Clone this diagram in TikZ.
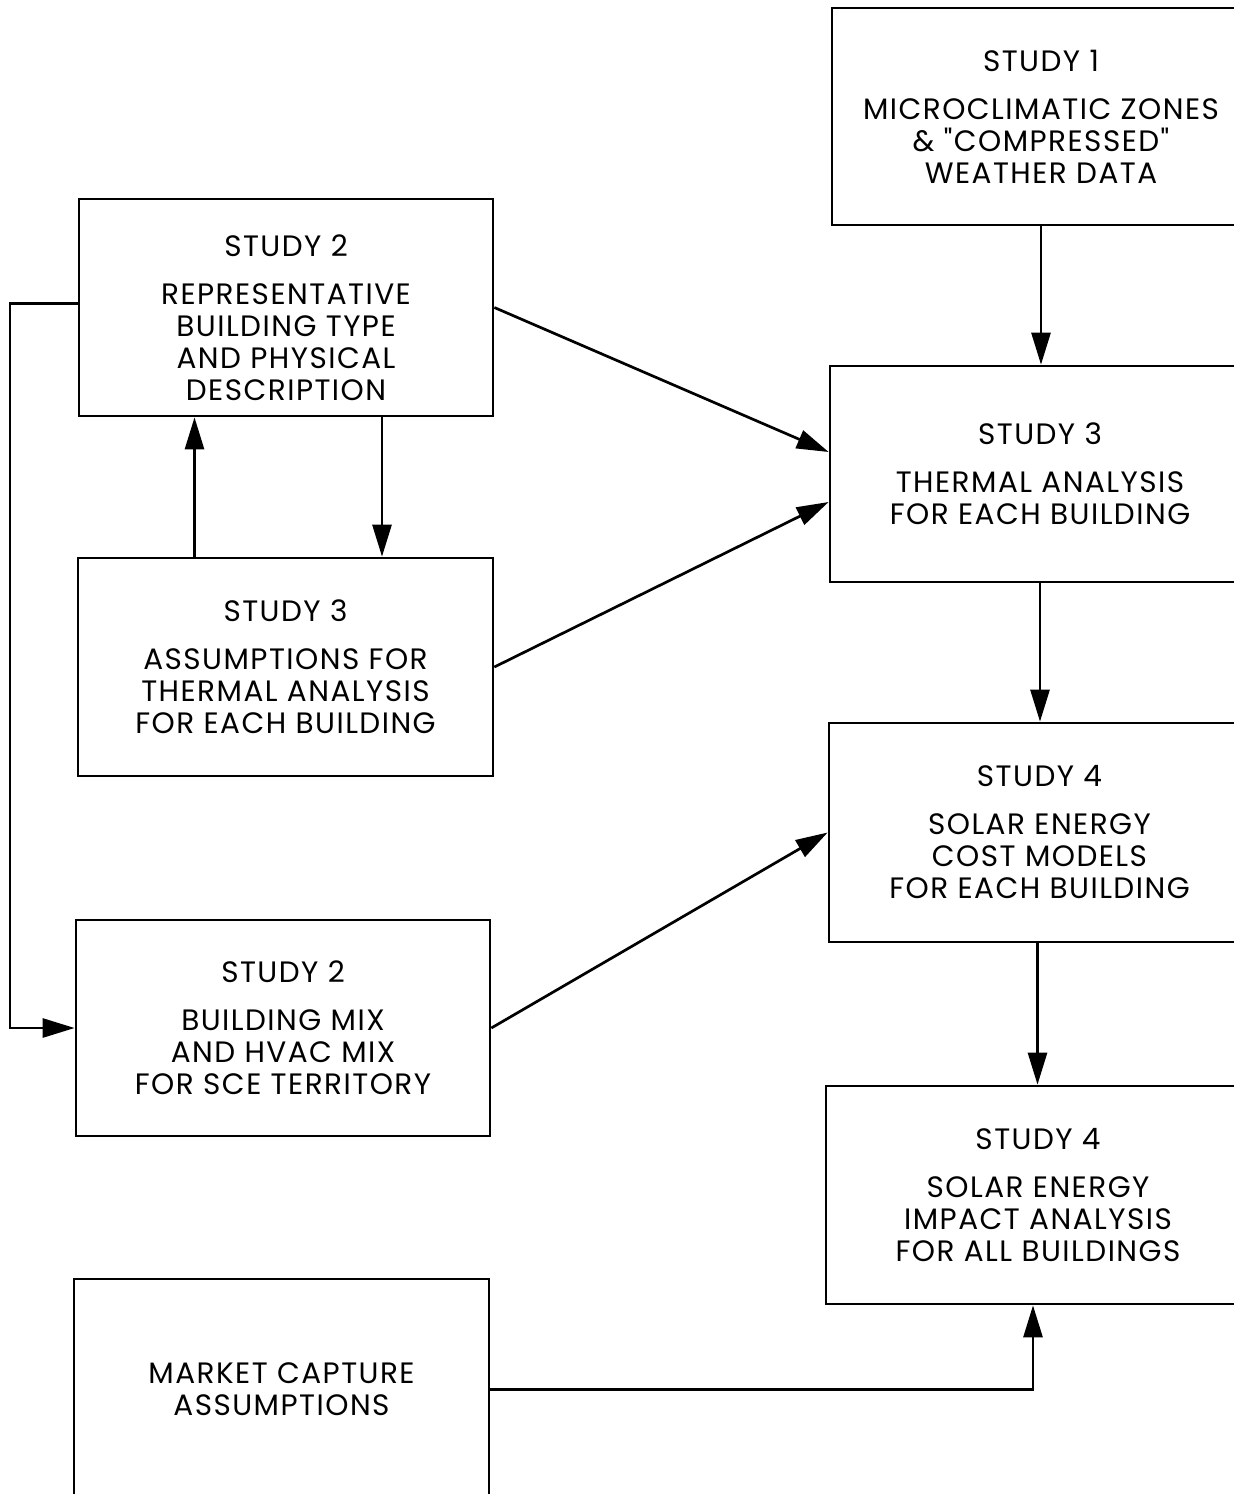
\documentclass[tikz,border=0pt]{standalone}
\usepackage{fontspec}
\newfontfamily\bodyfont{Poppins}[LetterSpace=5]
\usetikzlibrary{arrows.meta,calc}
\tikzset{
  box/.style={draw, line width=2.7pt, align=center, inner sep=0pt,
    font=\bodyfont\fontsize{29.5}{32}\selectfont},
  label text/.style={align=center, inner sep=0pt,
    font=\bodyfont\fontsize{29.5}{32}\selectfont},
  conn/.style={line width=2.7pt, -{Triangle[length=32pt,width=19pt]}}
}
\newcommand{\boxat}[6]{% name, x1, y1, x2, y2, text
  \node[box, minimum width=#4pt-#2pt, minimum height=#5pt-#3pt] (#1) at ({(#2+#4)/2},{(#3+#5)/2}) {#6};}
\begin{document}
\begin{tikzpicture}[x=1pt,y=-1pt]
\useasboundingbox (0,0) rectangle (1234,1494);
\clip (0,0) rectangle (1234,1494);
\boxat{s1}{832}{8}{1250}{225}{STUDY 1\\[16pt]MICROCLIMATIC ZONES\\\& "COMPRESSED"\\WEATHER DATA}
\boxat{s2t}{79}{199}{493}{416}{}
\node[label text] (s2ttext) at ($(s2t.center)+(0,10)$) {STUDY 2\\[16pt]REPRESENTATIVE\\BUILDING TYPE\\AND PHYSICAL\\DESCRIPTION};
\boxat{s3l}{78}{558}{493}{776}{STUDY 3\\[16pt]ASSUMPTIONS FOR\\THERMAL ANALYSIS\\FOR EACH BUILDING}
\boxat{s3r}{830}{366}{1250}{582}{STUDY 3\\[16pt]THERMAL ANALYSIS\\FOR EACH BUILDING}
\boxat{s4r}{829}{723}{1250}{942}{STUDY 4\\[16pt]SOLAR ENERGY\\COST MODELS\\FOR EACH BUILDING}
\boxat{s2b}{76}{920}{490}{1136}{STUDY 2\\[16pt]BUILDING MIX\\AND HVAC MIX\\FOR SCE TERRITORY}
\boxat{s4b}{826}{1086}{1250}{1304}{STUDY 4\\[16pt]SOLAR ENERGY\\IMPACT ANALYSIS\\FOR ALL BUILDINGS}
\boxat{mk}{74}{1279}{489}{1500}{MARKET CAPTURE\\ASSUMPTIONS}
\coordinate (lx) at (10,0);
% right column
\draw[conn] (s1.south) -- (s1.south |- s3r.north);
\draw[conn] (s3r.south) -- (s3r.south |- s4r.north);
\draw[conn] ([xshift=-2pt]s4r.south) -- ([xshift=-2pt]s4r.south |- s4b.north);
% diagonals
\draw[conn] (s2t.east) -- ([yshift=22pt]s3r.west);
\draw[conn] (s3l.east) -- ([yshift=-28pt]s3r.west);
\draw[conn] (s2b.east) -- (s4r.west);
% left verticals
\draw[conn] ([xshift=-91pt]s3l.north) -- ([xshift=-91pt]s3l.north |- s2t.south);
\draw[conn] ([xshift=96pt]s2t.south) -- ([xshift=96pt]s2t.south |- s3l.north);
% loop
\draw[conn] ([yshift=4pt]s2t.west) -- ([yshift=4pt]s2t.west -| lx) -- (lx |- s2b.west) -- (s2b.west);
% market
\draw[conn] (mk.east) -| ([xshift=-5pt]s4b.south);
\end{tikzpicture}
\end{document}
